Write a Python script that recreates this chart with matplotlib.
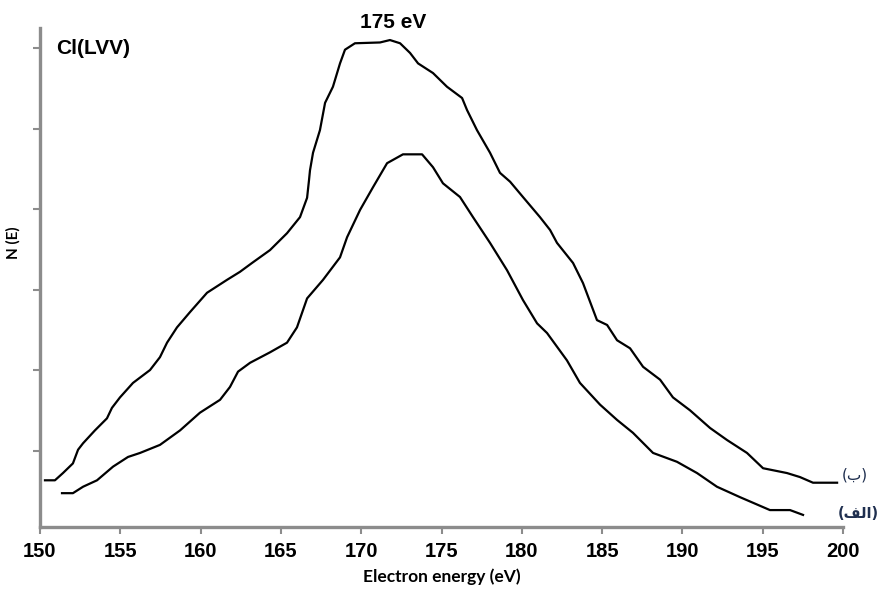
import matplotlib
matplotlib.use("Agg")
import matplotlib.pyplot as plt

# curve (b) - upper spectrum
energy_b = [150.31, 150.93, 151.43, 152.05, 152.37, 152.68, 153.42, 154.17, 154.48, 154.98,
            155.79, 156.85, 157.47, 157.91, 158.53, 159.34, 160.40, 161.64, 162.45, 163.20,
            164.32, 165.38, 166.19, 166.63, 166.75, 166.81, 167.00, 167.43, 167.75, 168.24,
            168.68, 168.99, 169.61, 171.17, 171.79, 172.42, 173.04, 173.54, 174.47, 175.34,
            176.28, 176.59, 177.21, 178.02, 178.64, 179.27, 180.07, 181.13, 181.76, 182.19,
            183.19, 183.81, 184.68, 185.31, 185.93, 186.74, 187.55, 188.61, 189.41, 190.47,
            191.72, 192.78, 194.02, 195.02, 196.51, 197.32, 198.13, 199.63]
counts_b = [0.63, 0.63, 0.72, 0.84, 1.01, 1.09, 1.25, 1.40, 1.53, 1.66,
            1.84, 2.00, 2.16, 2.34, 2.53, 2.72, 2.96, 3.12, 3.22, 3.33,
            3.49, 3.70, 3.90, 4.14, 4.36, 4.48, 4.70, 4.98, 5.32, 5.52,
            5.81, 5.98, 6.06, 6.07, 6.10, 6.06, 5.94, 5.81, 5.69, 5.52,
            5.38, 5.23, 4.98, 4.70, 4.45, 4.34, 4.15, 3.90, 3.74, 3.58,
            3.33, 3.08, 2.62, 2.56, 2.37, 2.27, 2.04, 1.88, 1.66, 1.50,
            1.28, 1.13, 0.97, 0.78, 0.72, 0.67, 0.60, 0.60]

# curve (alef) - lower spectrum
energy_a = [151.37, 152.05, 152.68, 153.55, 154.55, 155.48, 156.23, 157.47, 158.72, 159.96,
            161.21, 161.83, 162.33, 163.08, 164.32, 165.38, 166.00, 166.63, 167.62, 168.68,
            169.12, 169.93, 170.73, 171.61, 172.60, 173.79, 174.47, 175.09, 176.15, 176.96,
            178.02, 179.08, 180.07, 180.95, 181.57, 182.81, 183.62, 184.87, 185.93, 186.92,
            188.17, 189.66, 190.91, 192.15, 193.59, 195.45, 196.70, 197.51]
counts_a = [0.47, 0.47, 0.55, 0.63, 0.80, 0.92, 0.97, 1.07, 1.25, 1.47,
            1.63, 1.79, 1.98, 2.09, 2.22, 2.34, 2.53, 2.89, 3.12, 3.40,
            3.65, 3.99, 4.27, 4.57, 4.68, 4.68, 4.52, 4.32, 4.15, 3.90,
            3.58, 3.24, 2.87, 2.58, 2.46, 2.12, 1.84, 1.57, 1.38, 1.22,
            0.97, 0.86, 0.72, 0.55, 0.42, 0.26, 0.26, 0.20]

x_ticks = [150, 155, 160, 165, 170, 175, 180, 185, 190, 195, 200]
y_ticks = [1, 2, 3, 4, 5, 6]

label_b = "(\u0628)"
label_a = "(\ufed2\ufedf\ufe8d)"

fig = plt.figure(figsize=(8.81, 5.89), dpi=100)
ax = fig.add_axes([0.0454, 0.1053, 0.9115, 0.8472])

ax.plot(energy_b, counts_b, color="black", lw=1.6)
ax.plot(energy_a, counts_a, color="black", lw=1.6)

ax.set_xlim(150, 200)
ax.set_ylim(0.05, 6.25)
ax.set_xticks(x_ticks)
ax.set_yticks(y_ticks)
ax.set_yticklabels([])
ax.set_xticklabels([str(t) for t in x_ticks], fontfamily="Liberation Sans",
                   fontweight="bold", fontsize=14.5)

for side in ["top", "right"]:
    ax.spines[side].set_visible(False)
for side in ["left", "bottom"]:
    ax.spines[side].set_color("#8c8c8c")
    ax.spines[side].set_linewidth(2.4)
ax.tick_params(axis="both", direction="out", length=5, width=1.5, color="#8c8c8c",
               pad=6)

ax.set_xlabel("Electron energy (eV)", fontfamily="Lato", fontweight="bold",
              fontsize=12.5, labelpad=5)
ax.set_ylabel("N (E)", fontfamily="Lato", fontweight="bold", fontsize=11)
ax.yaxis.set_label_coords(-0.024, 0.57)

ax.text(151.0, 6.0, "Cl(LVV)", fontfamily="Liberation Sans", fontweight="bold",
        fontsize=15, va="center", ha="left")
ax.text(172.0, 6.32, "175 eV", fontfamily="Liberation Sans", fontweight="bold",
        fontsize=15, va="center", ha="center", clip_on=False)
ax.text(199.9, 0.70, label_b, fontfamily="DejaVu Sans", fontsize=11,
        color="#1f2f4f", va="center", ha="left", clip_on=False)
ax.text(199.7, 0.22, label_a, fontfamily="DejaVu Sans", fontsize=10.5, fontweight="bold",
        color="#1f2f4f", va="center", ha="left", clip_on=False)

fig.savefig("out.png", dpi=100)
